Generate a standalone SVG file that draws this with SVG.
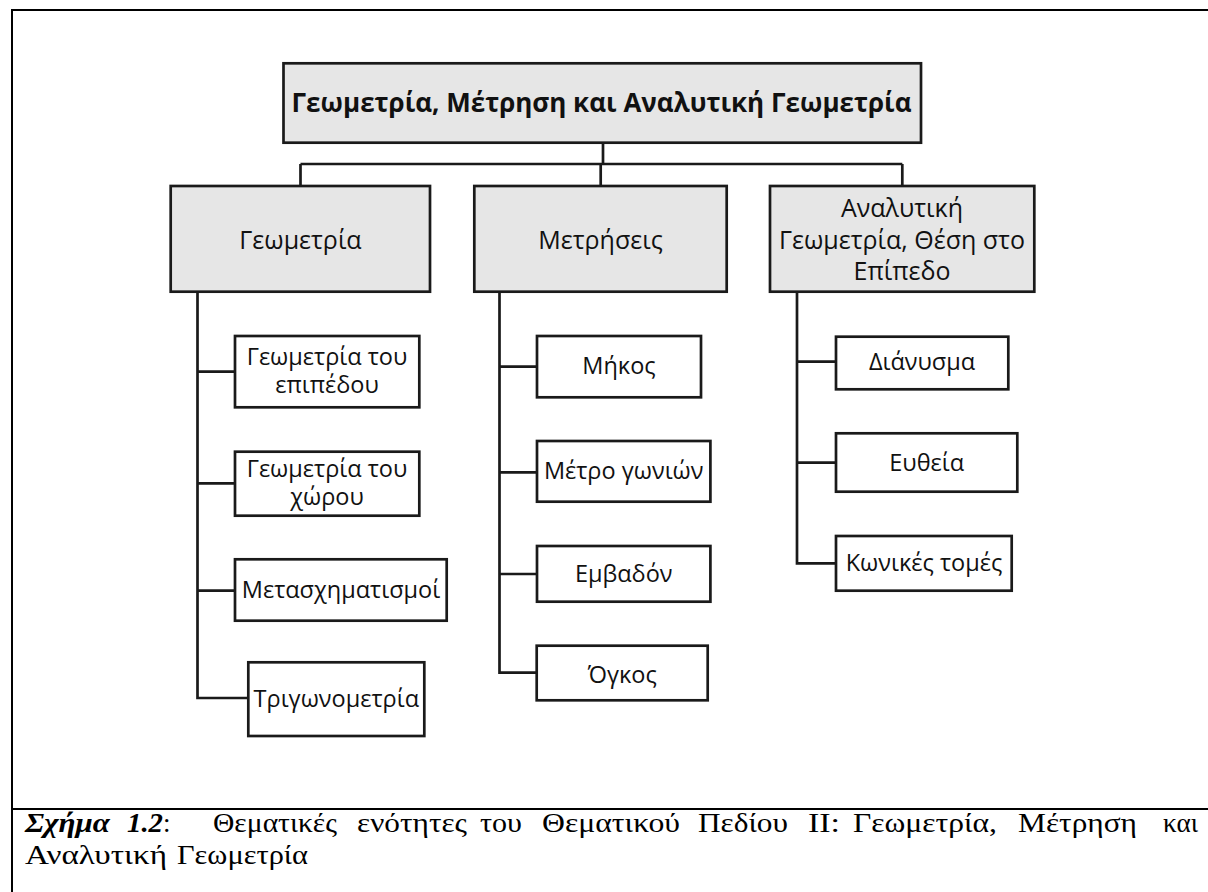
<svg xmlns="http://www.w3.org/2000/svg" width="1208" height="892" viewBox="0 0 1208 892">
<style>
.frame{fill:none;stroke:#000;stroke-width:2}
.box{stroke:#1a1a1a;stroke-width:2.7}
.g{fill:#e6e6e6}
.w{fill:#fff}
.conn{fill:none;stroke:#1a1a1a;stroke-width:2.7}
.t{font-family:"Open Sans","Noto Sans","DejaVu Sans",sans-serif;fill:#111;text-anchor:middle}
.t1{font-size:26px;font-weight:bold}
.t2{font-size:25px}
.t3{font-size:23.5px}
.cap{font-family:"Liberation Serif","Times New Roman",serif;font-size:27px;fill:#000}
.bi{font-weight:bold;font-style:italic}
</style>
<rect x="0" y="0" width="1208" height="892" fill="#fff"/>
<path class="frame" d="M1208,10 H12 V892 M12,809 H1208"/>
<g id="connectors">
<path class="conn" d="M603,143 V164 M300.5,164 H902.3 M300.5,164 V186 M600.7,164 V186 M902.3,164 V186"/>
<path class="conn" d="M197.5,292 V698 H248.3 M197.5,371.7 H235 M197.5,483.3 H235 M197.5,590.7 H235"/>
<path class="conn" d="M499.5,292 V672.7 H537 M499.5,366.7 H537 M499.5,472.3 H537 M499.5,574 H537"/>
<path class="conn" d="M797,292 V563.3 H836 M797,361.7 H836 M797,462.7 H836"/>
</g>
<g id="root">
<rect class="box g" x="283.5" y="63.3" width="637.5" height="79.4"/>
<text class="t t1" x="601.5" y="111.5">Γεωμετρία, Μέτρηση και Αναλυτική Γεωμετρία</text>
</g>
<g id="geometria">
<rect class="box g" x="170.7" y="186" width="259.3" height="105.7"/>
<text class="t t2" x="300.5" y="249">Γεωμετρία</text>
</g>
<g id="metriseis">
<rect class="box g" x="474.3" y="186" width="252.4" height="105.7"/>
<text class="t t2" x="600.5" y="249">Μετρήσεις</text>
</g>
<g id="analytiki">
<rect class="box g" x="770" y="186" width="264.3" height="105.7"/>
<text class="t t2"><tspan x="902" y="216.7">Αναλυτική</tspan><tspan x="902" y="248.5">Γεωμετρία, Θέση στο</tspan><tspan x="902" y="280.3">Επίπεδο</tspan></text>
</g>
<g id="g-epipedou">
<rect class="box w" x="235" y="336" width="184.3" height="71.3"/>
<text class="t t3"><tspan x="327" y="364.5">Γεωμετρία του</tspan><tspan x="327" y="393">επιπέδου</tspan></text>
</g>
<g id="g-xorou">
<rect class="box w" x="235" y="451.7" width="184.3" height="64"/>
<text class="t t3"><tspan x="327" y="476.5">Γεωμετρία του</tspan><tspan x="327" y="505">χώρου</tspan></text>
</g>
<g id="metasximatismoi">
<rect class="box w" x="235" y="559.3" width="211.7" height="61.4"/>
<text class="t t3" x="341" y="598.3">Μετασχηματισμοί</text>
</g>
<g id="trigonometria">
<rect class="box w" x="248.3" y="662.3" width="176" height="73.7"/>
<text class="t t3" x="336.3" y="707">Τριγωνομετρία</text>
</g>
<g id="mikos">
<rect class="box w" x="537" y="336" width="164" height="61.3"/>
<text class="t t3" x="619" y="374">Μήκος</text>
</g>
<g id="metro-gonion">
<rect class="box w" x="537" y="441" width="173.4" height="60.7"/>
<text class="t t3" x="623.7" y="479">Μέτρο γωνιών</text>
</g>
<g id="emvadon">
<rect class="box w" x="537" y="546" width="173.4" height="55.7"/>
<text class="t t3" x="623.7" y="581.7">Εμβαδόν</text>
</g>
<g id="ogkos">
<rect class="box w" x="536.7" y="645.7" width="171" height="54.6"/>
<text class="t t3" x="622.2" y="682.7">Όγκος</text>
</g>
<g id="dianysma">
<rect class="box w" x="836" y="336.7" width="172.3" height="52.6"/>
<text class="t t3" x="922" y="370">Διάνυσμα</text>
</g>
<g id="eytheia">
<rect class="box w" x="836" y="433.3" width="181.3" height="58.4"/>
<text class="t t3" x="926.7" y="470.5">Ευθεία</text>
</g>
<g id="konikes">
<rect class="box w" x="836" y="536" width="175.7" height="54.7"/>
<text class="t t3" x="924" y="570.5">Κωνικές τομές</text>
</g>
<g id="caption">
<text class="cap bi" x="25" y="832" textLength="85" lengthAdjust="spacingAndGlyphs">Σχήμα</text>
<text class="cap bi" x="127" y="832" textLength="36" lengthAdjust="spacingAndGlyphs">1.2</text>
<text class="cap" x="163" y="832">:</text>
<text class="cap" x="213" y="832" textLength="124" lengthAdjust="spacingAndGlyphs">Θεματικές</text>
<text class="cap" x="357" y="832" textLength="110" lengthAdjust="spacingAndGlyphs">ενότητες</text>
<text class="cap" x="480" y="832" textLength="42" lengthAdjust="spacingAndGlyphs">του</text>
<text class="cap" x="542" y="832" textLength="138" lengthAdjust="spacingAndGlyphs">Θεματικού</text>
<text class="cap" x="698" y="832" textLength="90" lengthAdjust="spacingAndGlyphs">Πεδίου</text>
<text class="cap" x="808" y="832" textLength="32" lengthAdjust="spacingAndGlyphs">ΙΙ:</text>
<text class="cap" x="853" y="832" textLength="144" lengthAdjust="spacingAndGlyphs">Γεωμετρία,</text>
<text class="cap" x="1018" y="832" textLength="119" lengthAdjust="spacingAndGlyphs">Μέτρηση</text>
<text class="cap" x="1163" y="832" textLength="35" lengthAdjust="spacingAndGlyphs">και</text>
<text class="cap" x="25" y="864" textLength="142" lengthAdjust="spacingAndGlyphs">Αναλυτική</text>
<text class="cap" x="177" y="864" textLength="131" lengthAdjust="spacingAndGlyphs">Γεωμετρία</text>
</g>
</svg>
